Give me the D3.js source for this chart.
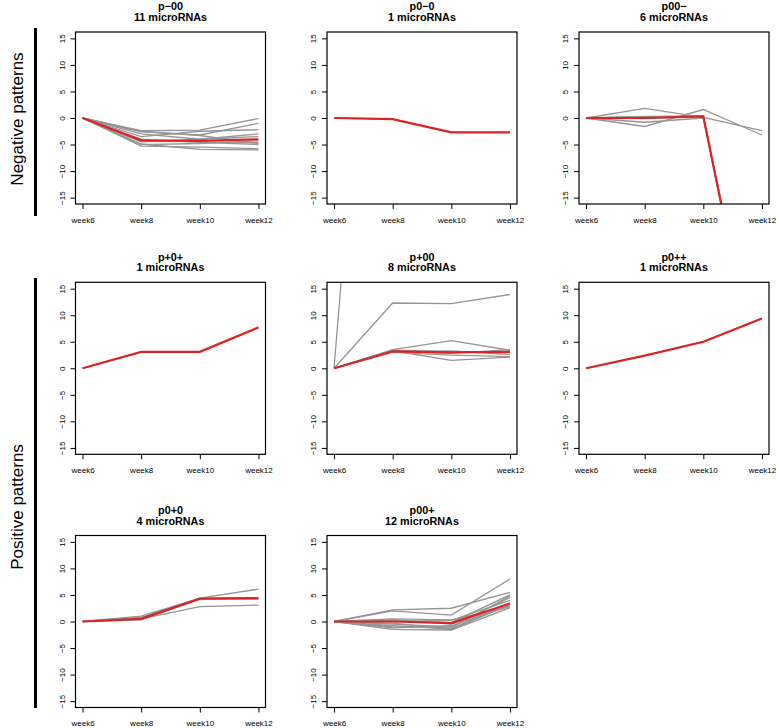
<!DOCTYPE html>
<html>
<head>
<meta charset="utf-8">
<script src="https://cdn.jsdelivr.net/npm/d3@7"></script>
<style>
    body { margin: 0; background: #fff; }
    svg { font-family: "Liberation Sans", Arial, sans-serif; }
    .title { font-weight: bold; font-size: 10.8px; }
    .axis text { font-size: 8px; fill: #000; }
    .group { font-size: 17px; }
</style>
</head>
<body>
<svg id="chart" width="778" height="728"></svg>
<script>
// data
var weeks = ["week6", "week8", "week10", "week12"];
var yTicks = [-15, -10, -5, 0, 5, 10, 15];
var patternNames = ["p\u221200", "p0\u22120", "p00\u2212", "p+0+", "p+00", "p0++", "p0+0", "p00+"];
var patternCounts = [11, 1, 6, 1, 8, 1, 4, 12];
var groupLabels = ["Negative patterns", "Positive patterns"];

// grey lines, one row per microRNA
var pM00 = [
    [0, -2.4, -2.3, -0.1],
    [0, -2.6, -3.2, -1.0],
    [0, -3.5, -2.5, -2.2],
    [0, -4.9, -5.9, -6.0],
    [0, -5.3, -5.5, -5.8],
    [0, -4.2, -4.5, -4.7],
    [0, -3.0, -4.0, -3.5],
    [0, -2.5, -3.3, -4.8],
    [0, -4.5, -4.0, -3.0],
    [0, -5.0, -4.8, -4.3],
    [0, -4.0, -4.6, -5.0]
];
var p0M0 = [
    [0, -0.2, -2.7, -2.7]
];
var p00M = [
    [0, 1.8, 0.1, -2.4],
    [0, -1.6, 1.6, -3.2],
    [0, -0.8, 0.0, -52],
    [0, 0.3, 0.4, -55],
    [0, 0.2, 0.2, -54],
    [0, -0.1, 0.3, -53]
];
var pP0P = [
    [0, 3.1, 3.1, 7.7]
];
var pP00 = [
    [0, 135, 140, 150],
    [0, 12.3, 12.2, 13.9],
    [0, 3.5, 5.2, 3.4],
    [0, 3.3, 1.5, 2.1],
    [0, 3.0, 2.5, 2.2],
    [0, 3.4, 3.1, 3.0],
    [0, 3.1, 2.8, 3.5],
    [0, 3.2, 3.3, 2.6]
];
var p0PP = [
    [0, 2.4, 5.0, 9.4]
];
var p0P0 = [
    [0, 1.0, 4.4, 6.1],
    [0, 0.5, 2.8, 3.1],
    [0, 0.8, 4.3, 4.5],
    [0, 0.3, 4.2, 4.2]
];
var p00P = [
    [0, 2.2, 2.5, 5.5],
    [0, 2.0, 1.2, 8.0],
    [0, -1.5, -1.6, 2.6],
    [0, -1.0, -1.2, 4.8],
    [0, 0.3, -0.5, 3.0],
    [0, -0.5, -1.0, 4.5],
    [0, 0.5, 0.3, 2.8],
    [0, -0.8, -1.4, 3.5],
    [0, 0.2, -0.2, 5.0],
    [0, -1.2, -0.8, 2.9],
    [0, 0.0, 0.2, 4.0],
    [0, -0.3, -1.5, 3.2]
];

// red mean lines
var meanPM00 = [0, -4.2, -4.3, -4.0];
var meanP0M0 = [0, -0.2, -2.7, -2.7];
var meanP00M = [0, 0.0, 0.3, -53.6];
var meanPP0P = [0, 3.1, 3.1, 7.7];
var meanPP00 = [0, 3.2, 3.0, 3.1];
var meanP0PP = [0, 2.4, 5.0, 9.4];
var meanP0P0 = [0, 0.5, 4.3, 4.4];
var meanP00P = [0, 0.0, -0.3, 3.4];

var profiles = [pM00, p0M0, p00M, pP0P, pP00, p0PP, p0P0, p00P];
var means = [meanPM00, meanP0M0, meanP00M, meanPP0P, meanPP00, meanP0PP, meanP0P0, meanP00P];

// layout
var colLeft = [75.5, 327, 579];
var rowTop = [32, 282.3, 535.5];
var boxW = 190, boxH = 172;

var svg = d3.select("#chart");

var x = d3.scalePoint().domain(weeks).range([0, boxW]).padding(0.12);
var y = d3.scaleLinear().domain([-16.2, 16.2]).range([boxH, 0]);

var line = d3.line()
    .x(function(d, i) { return x(weeks[i]); })
    .y(function(d) { return y(d); });

for (var i = 0; i < patternNames.length; i++) {
    var panelLeft = colLeft[i % 3];
    var panelTop = rowTop[Math.floor(i / 3)];
    var g = svg.append("g").attr("transform", "translate(" + panelLeft + "," + panelTop + ")");

    g.append("clipPath").attr("id", "clip" + i)
        .append("rect")
        .attr("width", boxW)
        .attr("height", boxH);

    var plot = g.append("g").attr("clip-path", "url(#clip" + i + ")");

    plot.selectAll(".grey")
        .data(profiles[i])
        .enter()
        .append("path")
        .attr("class", "grey")
        .attr("d", line)
        .attr("fill", "none")
        .attr("stroke", "#959595")
        .attr("stroke-width", 1.3);

    plot.append("path")
        .attr("d", line(means[i]))
        .attr("fill", "none")
        .attr("stroke", "#dd2424")
        .attr("stroke-width", 2.2);

    // box
    g.append("rect")
        .attr("width", boxW)
        .attr("height", boxH)
        .attr("fill", "none")
        .attr("stroke", "#000")
        .attr("stroke-width", 1.2);

    // x-axis
    g.append("g").attr("class", "axis")
        .attr("transform", "translate(0," + boxH + ")")
        .call(d3.axisBottom(x).tickSize(5).tickSizeOuter(0).tickPadding(8))
        .select(".domain").remove();

    // y-axis
    var ya = g.append("g").attr("class", "axis")
        .call(d3.axisLeft(y).tickValues(yTicks).tickSize(5).tickSizeOuter(0));
    ya.select(".domain").remove();
    ya.selectAll("text")
        .attr("x", null)
        .attr("dy", "0.35em")
        .attr("text-anchor", "middle")
        .attr("transform", "translate(-13.8,0) rotate(-90)");

    // title
    g.append("text")
        .attr("class", "title")
        .attr("x", boxW / 2)
        .attr("y", -25.3)
        .attr("dy", "0.35em")
        .attr("text-anchor", "middle")
        .text(patternNames[i]);
    g.append("text")
        .attr("class", "title")
        .attr("x", boxW / 2)
        .attr("y", -14.7)
        .attr("dy", "0.35em")
        .attr("text-anchor", "middle")
        .text(patternCounts[i] + " microRNAs");
}

// group bars and labels
svg.append("rect").attr("x", 34).attr("y", 28).attr("width", 3).attr("height", 188).attr("fill", "#000");
svg.append("rect").attr("x", 34).attr("y", 278).attr("width", 3).attr("height", 430).attr("fill", "#000");

svg.append("text")
    .attr("class", "group")
    .attr("text-anchor", "middle")
    .attr("dy", "0.35em")
    .attr("transform", "translate(17,119) rotate(-90)")
    .text(groupLabels[0]);
svg.append("text")
    .attr("class", "group")
    .attr("text-anchor", "middle")
    .attr("dy", "0.35em")
    .attr("transform", "translate(17,507) rotate(-90)")
    .text(groupLabels[1]);
</script>
</body>
</html>
